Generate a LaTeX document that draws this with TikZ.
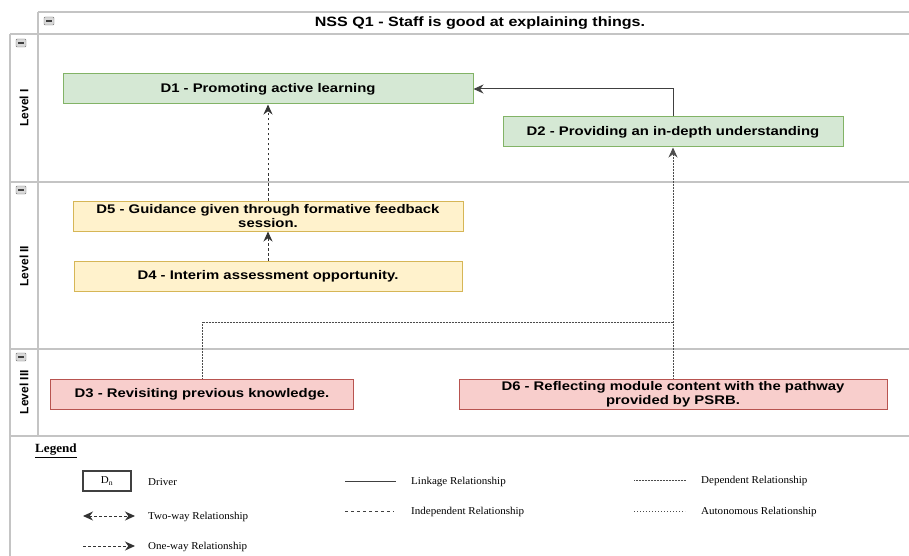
\documentclass[tikz,border=0pt]{standalone}
\usepackage{fontspec}
\setmainfont{Liberation Sans}[FakeStretch=1.19]
\newfontfamily\legendfont{Liberation Serif}[FakeStretch=1.05]
\usetikzlibrary{arrows.meta,positioning}

\definecolor{greenfill}{HTML}{D5E8D4}
\definecolor{greenline}{HTML}{82B366}
\definecolor{yellowfill}{HTML}{FFF2CC}
\definecolor{yellowline}{HTML}{D6B656}
\definecolor{redfill}{HTML}{F8CECC}
\definecolor{redline}{HTML}{B85450}
\definecolor{laneline}{HTML}{C4C4C4}

\tikzset{
  lane/.style={draw=laneline, line width=1.3pt},
  driver/.style={draw, line width=1pt, minimum height=30pt, inner sep=1pt,
    align=center, font=\fontsize{12.5}{14}\selectfont\bfseries},
  lvone/.style={driver, fill=greenfill, draw=greenline},
  lvtwo/.style={driver, fill=yellowfill, draw=yellowline},
  lvthree/.style={driver, fill=redfill, draw=redline},
  title/.style={font=\fontsize{13.5}{15}\selectfont\bfseries, inner sep=0pt},
  lvlabel/.style={rotate=90, font={\setmainfont{Liberation Sans}\fontsize{12}{14}\selectfont\bfseries}, inner sep=0pt},
  minus/.style={draw=black!55, fill=black!15, rounded corners=1pt, minimum width=10pt,
    minimum height=8pt, inner sep=0pt,
    path picture={\draw[black!75, line width=1.2pt]
      ([xshift=-3pt]path picture bounding box.center) --
      ([xshift=3pt]path picture bounding box.center);}},
  tip/.style={-{Stealth[length=10pt,width=9pt]}},
  link/.style={draw=black!75, line width=1pt},
  indep/.style={draw=black!75, line width=1pt, dash pattern=on 3pt off 3pt},
  dep/.style={draw=black!70, line width=0.8pt, dash pattern=on 1pt off 0.5pt},
  auto/.style={draw=black!70, line width=0.8pt, dash pattern=on 1pt off 2pt},
  oneway/.style={draw=black!80, line width=1pt, dash pattern=on 2.5pt off 2.5pt, tip},
  twoway/.style={oneway, {Stealth[length=10pt,width=9pt]}-{Stealth[length=10pt,width=9pt]}},
  legtext/.style={anchor=west, inner sep=0pt, font=\legendfont\fontsize{10.5}{12}\selectfont},
  dnbox/.style={draw=black!75, line width=1.3pt, minimum width=48pt, minimum height=20pt,
    inner sep=0pt, font=\legendfont\fontsize{10.5}{12}\selectfont}
}

\begin{document}
\begin{tikzpicture}[x=1pt,y=-1pt]
  \useasboundingbox (0,0) rectangle (909,556);

  \draw[lane] (38,12) -- (909,12) (10,34) -- (909,34) (10,182) -- (909,182)
    (10,349) -- (909,349) (10,436) -- (909,436);
  \draw[lane] (38,12) -- (38,436) (10,34) -- (10,556);

  \node[title] (T) at (480,23) {NSS Q1 - Staff is good at explaining things.};
  \node[minus] (M0) at (49,21) {};
  \node[minus] (M1) at (21,43) {};
  \node[minus] (M2) at (21,190) {};
  \node[minus] (M3) at (21,357) {};

  \node[lvlabel] (L1) at (24,108) {Level I};
  \node[lvlabel] (L2) at (24,266) {Level II};
  \node[lvlabel] (L3) at (24,392) {Level III};

  \node[lvone, minimum width=410pt] (D1) at (268,89) {D1 - Promoting active learning};
  \node[lvone, minimum width=340pt] (D2) at (673,132) {D2 - Providing an in-depth understanding};
  \node[lvtwo, minimum width=390pt] (D5) at (268,216) {D5 - Guidance given through formative feedback\\session.};
  \node[lvtwo, minimum width=388pt] (D4) at (268,276) {D4 - Interim assessment opportunity.};
  \node[lvthree, minimum width=303pt] (D3) at (202,394) {D3 - Revisiting previous knowledge.};
  \node[lvthree, minimum width=428pt] (D6) at (673,394) {D6 - Reflecting module content with the pathway\\provided by PSRB.};

  \coordinate (J) at (673,322);

  \draw[oneway] (D4) -- (D5);
  \draw[oneway] (D5) -- (D1);
  \draw[link, tip] (D2.north) |- (D1.east);
  \draw[dep] (D3.north) |- (J);
  \draw[dep, tip] (D6.north) -- (D2.south);

  \node[anchor=west, inner sep=0pt, font=\legendfont\fontsize{12.5}{14}\selectfont\bfseries] (LG) at (35,451) {\underline{Legend}};
  \node[dnbox] (DN) at (107,481) {D\textsubscript{n}};
  \node[legtext] (T1) at (148,482) {Driver};

  \coordinate (A1) at (83,516);
  \coordinate (B1) at (135,516);
  \draw[twoway] (A1) -- (B1);
  \node[legtext] (T2) at (148,517) {Two-way Relationship};

  \coordinate (A2) at (83,546);
  \coordinate (B2) at (135,546);
  \draw[oneway] (A2) -- (B2);
  \node[legtext] (T3) at (148,547) {One-way Relationship};

  \coordinate (A3) at (345,481);
  \coordinate (B3) at (396,481);
  \draw[link] (A3) -- (B3);
  \node[legtext] (T4) at (411,482) {Linkage Relationship};

  \coordinate (A4) at (345,511);
  \coordinate (B4) at (394,511);
  \draw[indep] (A4) -- (B4);
  \node[legtext] (T5) at (411,512) {Independent Relationship};

  \coordinate (A5) at (634,480);
  \coordinate (B5) at (686,480);
  \draw[dep] (A5) -- (B5);
  \node[legtext] (T6) at (701,481) {Dependent Relationship};

  \coordinate (A6) at (634,511);
  \coordinate (B6) at (685,511);
  \draw[auto] (A6) -- (B6);
  \node[legtext] (T7) at (701,512) {Autonomous Relationship};
\end{tikzpicture}
\end{document}
